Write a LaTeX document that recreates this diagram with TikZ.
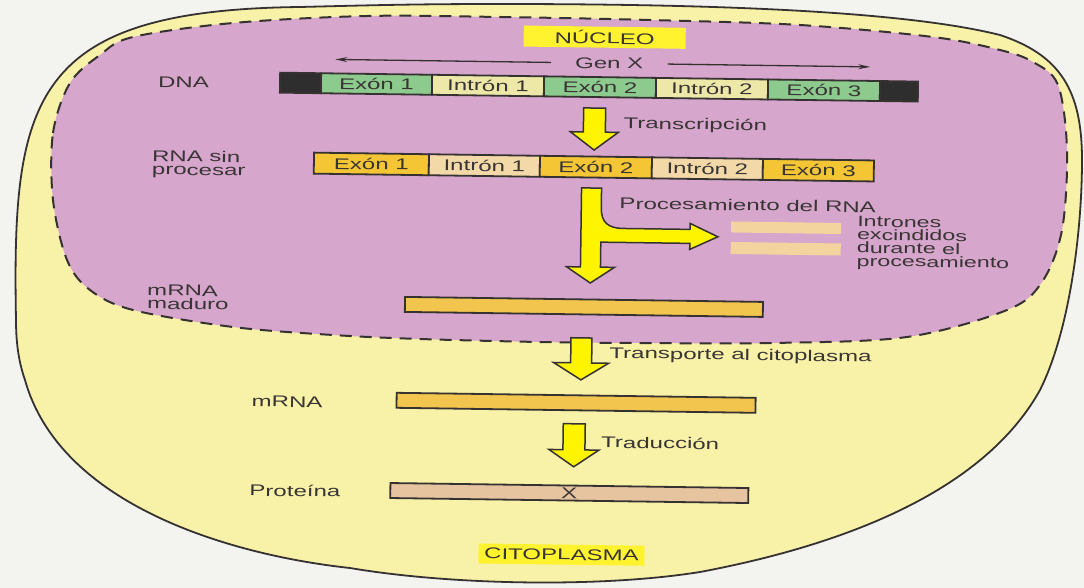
\documentclass[tikz,border=0pt]{standalone}
\usepackage{fontspec}
\setmainfont{Liberation Sans}[FakeStretch=1.55]
\usetikzlibrary{arrows.meta}
\definecolor{page}{HTML}{F3F3F0}
\definecolor{cyto}{HTML}{F8F1A8}
\definecolor{nucl}{HTML}{D6A6CC}
\definecolor{exg}{HTML}{8DCA8E}
\definecolor{intd}{HTML}{EEE8A8}
\definecolor{endk}{HTML}{2E2E2E}
\definecolor{exr}{HTML}{F4C534}
\definecolor{intr}{HTML}{F3D9A8}
\definecolor{mrna}{HTML}{F2C54E}
\definecolor{prot}{HTML}{E6C4A0}
\definecolor{exc}{HTML}{F4D49E}
\definecolor{arr}{HTML}{FFF400}
\definecolor{lab}{HTML}{FFF22E}
\definecolor{ink}{HTML}{363232}
\definecolor{txt}{HTML}{3A3535}
\newcommand\yarrowdown[6]{\draw[blk] (#1-#5,#2) -- (#1+#5,#2) -- (#1+#5,#3) -- (#1+#6,#3) -- (#1,#4) -- (#1-#6,#3) -- (#1-#5,#3) -- cycle;}
\begin{document}
\begin{tikzpicture}[x=1pt,y=-1pt,
  font=\fontsize{15.5}{13.5}\selectfont,
  every node/.style={text=txt, inner sep=0pt},
  seg/.style={draw=ink, line width=1.8pt, minimum height=20pt},
  rbar/.style={draw=ink, line width=1.8pt, minimum height=15pt},
  lbl/.style={anchor=west, align=left},
  blk/.style={fill=arr, draw=ink, line width=1.5pt, line join=miter},
  genarrow/.style={draw=ink, line width=1.3pt, -{Stealth[length=12pt,width=5pt]}}]
\useasboundingbox (0,0) rectangle (1084,588);
\fill[page] (0,0) rectangle (1084,588);
% cell
\draw[fill=cyto, draw=ink, line width=1.8pt]
  (16,320) .. controls (12,100) and (30,10) .. (300,7)
  .. controls (380,5) and (420,4) .. (500,4)
  .. controls (700,4) and (900,10) .. (1000,35)
  .. controls (1060,55) and (1082,90) .. (1082,160)
  .. controls (1082,230) and (1070,330) .. (1040,390)
  .. controls (990,480) and (870,540) .. (700,572)
  .. controls (600,588) and (450,585) .. (350,568)
  .. controls (230,555) and (60,505) .. (25,380)
  .. controls (18,360) and (16,340) .. (16,320) -- cycle;
% nucleus
\draw[fill=nucl, draw=ink, line width=2pt, dash pattern=on 12pt off 8pt] plot[smooth cycle, tension=0.55] coordinates {
 (53,200) (53,133) (70,83) (100,55) (133,37) (233,23) (367,16) (500,17) (650,20) (800,25)
 (933,37) (1000,50) (1033,62) (1058,85) (1067,150) (1062,230) (1042,282) (1007,310)
 (907,337) (773,343) (640,343) (540,342) (420,339) (333,335) (233,327) (133,310)
 (90,290) (67,260)};
\begin{scope}[rotate around={-0.8:(590,300)}, transform shape]
 \node[fill=lab, minimum width=162pt, minimum height=21pt] (nucleo) at (601,37) {NÚCLEO};
 \node[inner xsep=24pt] (genx) at (606,63) {Gen X};
 \coordinate (gl) at (332,63);
 \coordinate (gr) at (867,63);
 \draw[genarrow] (genx.west) -- (gl);
 \draw[genarrow] (genx.east) -- (gr);
 % DNA
 \node[lbl] (ldna) at (155,88) {DNA};
 \node[seg, fill=endk, minimum width=41pt] (d0) at (297.5,87) {};
 \node[seg, fill=exg, minimum width=111pt] (d1) at (373.5,87) {Exón 1};
 \node[seg, fill=intd, minimum width=112pt] (d2) at (485,87) {Intrón 1};
 \node[seg, fill=exg, minimum width=112pt] (d3) at (597,87) {Exón 2};
 \node[seg, fill=intd, minimum width=112pt] (d4) at (709,87) {Intrón 2};
 \node[seg, fill=exg, minimum width=112pt] (d5) at (821,87) {Exón 3};
 \node[seg, fill=endk, minimum width=38pt] (d6) at (896,87) {};
 % transcription
 \yarrowdown{592}{108}{132}{150}{11}{24}
 \node[lbl] (ltr) at (621,124) {Transcripción};
 % RNA
 \node[lbl] (lrna) at (150,170) {RNA sin\\procesar};
 \node[seg, minimum height=21pt, fill=exr, minimum width=115pt] (r1) at (369.5,167) {Exón 1};
 \node[seg, minimum height=21pt, fill=intr, minimum width=111pt] (r2) at (482.5,167) {Intrón 1};
 \node[seg, minimum height=21pt, fill=exr, minimum width=112pt] (r3) at (594,167) {Exón 2};
 \node[seg, minimum height=21pt, fill=intr, minimum width=111pt] (r4) at (705.5,167) {Intrón 2};
 \node[seg, minimum height=21pt, fill=exr, minimum width=111pt] (r5) at (816.5,167) {Exón 3};
 % processing
 \draw[blk] (580,188) -- (600,188) -- (600,208) .. controls (600,222) and (607,228) .. (622,228)
   -- (689,228) -- (689,222) -- (717,235) -- (689,248) -- (689,242) -- (600,242)
   -- (600,267) -- (614,267) -- (590,283) -- (566,267) -- (580,267) -- cycle;
 \node[lbl] (lproc) at (618,203) {Procesamiento del RNA};
 \node[fill=exc, minimum width=110pt, minimum height=11pt] (x1) at (785,225) {};
 \node[fill=exc, minimum width=110pt, minimum height=12pt] (x2) at (785,246) {};
 \node[lbl, font=\fontsize{15}{13.2}\selectfont] (lint) at (856,239) {Intrones\\excindidos\\durante el\\procesamiento};
 % mature mRNA
 \node[lbl] (lmm) at (147,303) {mRNA\\maduro};
 \node[rbar, fill=mrna, minimum width=358pt] (mm) at (584,307) {};
 % transport
 \yarrowdown{582}{338}{363}{380}{10.5}{27.5}
 \node[lbl] (ltp) at (610,354) {Transporte al citoplasma};
 % mRNA
 \node[lbl] (lm) at (253,406) {mRNA};
 \node[rbar, fill=mrna, minimum width=359pt] (m) at (577.5,403) {};
 % translation
 \yarrowdown{576}{424}{450}{467}{11}{25}
 \node[lbl] (ltd) at (603,442) {Traducción};
 % protein
 \node[lbl] (lp) at (252,495) {Proteína};
 \node[rbar, fill=prot, minimum width=358pt] (p) at (572,493.3) {X};
 \node[fill=lab, minimum width=166pt, minimum height=20pt] (cito) at (565,555) {CITOPLASMA};
\end{scope}
\end{tikzpicture}
\end{document}
